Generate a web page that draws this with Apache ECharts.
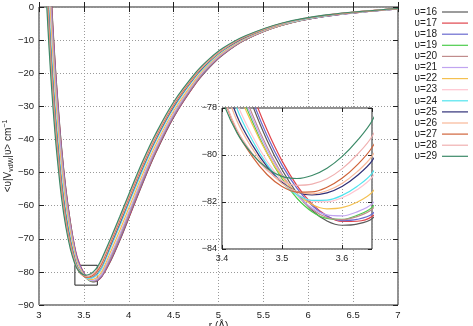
<!DOCTYPE html>
<html>
<head>
<meta charset="utf-8">
<script src="https://cdn.jsdelivr.net/npm/echarts@6/dist/echarts.min.js"></script>
<style>
html, body {margin: 0; padding: 0; background: #fff;}
#chart {width: 473px; height: 326px;}
</style>
</head>
<body>
<div id="chart"></div>
<script>
// r (Å) sampling points shared by every curve
var aR = [3.08, 3.11, 3.14, 3.17, 3.2, 3.25, 3.3, 3.35,
    3.4, 3.425, 3.45, 3.475, 3.5, 3.525, 3.55, 3.575, 3.6, 3.625, 3.65,
    3.7, 3.8, 3.9, 4.0, 4.15, 4.3, 4.5, 4.75, 4.9, 5.05, 5.3, 5.7, 6.2, 7.0];

var aNames = ['υ=16', 'υ=17', 'υ=18', 'υ=19', 'υ=20', 'υ=21', 'υ=22',
    'υ=23', 'υ=24', 'υ=25', 'υ=26', 'υ=27', 'υ=28', 'υ=29'];

var v16 = [36.1, 17.6, 1.5, -12.8, -25.0, -42.0, -55.1, -65.0, -73.2, -76.03, -77.83, -79.37, -80.63, -81.62, -82.35, -82.81, -82.99, -82.94, -82.71, -81.4, -76.65, -70.56, -63.8, -53.58, -44.11, -33.32, -22.96, -18.2, -14.4, -9.9, -5.6, -2.8, -0.6];
var v17 = [35.1, 16.7, 0.7, -13.5, -25.6, -42.5, -55.4, -65.2, -72.7, -75.49, -77.35, -78.93, -80.25, -81.30, -82.08, -82.59, -82.83, -82.82, -82.62, -81.4, -76.4, -70.3, -63.6, -53.4, -43.9, -33.2, -22.9, -18.1, -14.3, -9.9, -5.6, -2.8, -0.6];
var v18 = [33.5, 15.3, -0.6, -14.6, -26.6, -43.2, -56.0, -65.7, -73.0, -75.83, -77.63, -79.17, -80.43, -81.42, -82.15, -82.61, -82.79, -82.74, -82.51, -81.2, -76.1, -70.0, -63.2, -53.1, -43.6, -33.0, -22.7, -18.0, -14.2, -9.8, -5.5, -2.8, -0.6];
var v19 = [30.3, 12.4, -3.1, -16.9, -28.6, -44.8, -57.2, -66.5, -74.3, -76.90, -78.54, -79.91, -81.01, -81.84, -82.41, -82.70, -82.74, -82.57, -82.23, -80.7, -75.4, -69.3, -62.5, -52.4, -43.1, -32.5, -22.4, -17.7, -14.0, -9.7, -5.5, -2.7, -0.6];
var v20 = [31.6, 13.5, -2.1, -16.0, -27.8, -44.2, -56.7, -66.1, -73.9, -76.54, -78.23, -79.65, -80.81, -81.70, -82.31, -82.66, -82.75, -82.62, -82.31, -80.9, -75.7, -69.5, -62.8, -52.6, -43.3, -32.7, -22.5, -17.8, -14.1, -9.7, -5.5, -2.7, -0.6];
var v21 = [28.0, 10.4, -5.0, -18.4, -29.9, -45.9, -58.0, -67.0, -74.2, -76.75, -78.39, -79.76, -80.86, -81.69, -82.26, -82.55, -82.59, -82.42, -82.08, -80.6, -74.9, -68.7, -62.0, -51.9, -42.7, -32.2, -22.1, -17.5, -13.9, -9.6, -5.4, -2.7, -0.6];
var v22 = [22.5, 5.4, -9.3, -22.3, -33.3, -48.5, -59.9, -68.4, -74.7, -77.13, -78.67, -79.93, -80.92, -81.65, -82.11, -82.29, -82.24, -82.01, -81.59, -79.9, -73.8, -67.5, -60.8, -50.8, -41.7, -31.4, -21.6, -17.1, -13.6, -9.4, -5.3, -2.6, -0.5];
var v23 = [17.3, 0.8, -13.5, -25.9, -36.4, -50.9, -61.8, -69.7, -75.6, -77.79, -79.16, -80.26, -81.09, -81.66, -81.95, -81.99, -81.82, -81.48, -80.95, -79.1, -72.7, -66.3, -59.6, -49.7, -40.7, -30.7, -21.0, -16.7, -13.3, -9.2, -5.2, -2.6, -0.5];
var v24 = [16.0, -0.4, -14.5, -26.8, -37.2, -51.6, -62.2, -70.0, -75.9, -78.03, -79.35, -80.40, -81.18, -81.69, -81.93, -81.92, -81.72, -81.34, -80.78, -78.8, -72.4, -66.0, -59.3, -49.5, -40.5, -30.5, -20.9, -16.6, -13.2, -9.2, -5.2, -2.6, -0.5];
var v25 = [12.7, -3.3, -17.1, -29.0, -39.2, -53.1, -63.4, -70.8, -76.4, -78.34, -79.55, -80.49, -81.16, -81.57, -81.70, -81.61, -81.34, -80.88, -80.25, -78.1, -71.7, -65.3, -58.6, -48.8, -39.9, -30.0, -20.6, -16.3, -13.0, -9.1, -5.1, -2.5, -0.5];
var v26 = [10.8, -5.0, -18.6, -30.4, -40.4, -54.0, -64.1, -71.3, -76.7, -78.55, -79.71, -80.60, -81.21, -81.56, -81.65, -81.52, -81.21, -80.72, -80.05, -77.9, -71.3, -64.9, -58.2, -48.4, -39.6, -29.7, -20.4, -16.2, -12.9, -9.0, -5.1, -2.5, -0.5];
var v27 = [8.2, -7.3, -20.7, -32.2, -41.9, -55.2, -65.0, -72.0, -77.3, -79.00, -80.05, -80.83, -81.34, -81.58, -81.57, -81.37, -80.99, -80.43, -79.68, -77.4, -70.8, -64.3, -57.6, -47.9, -39.1, -29.4, -20.1, -15.9, -12.7, -8.9, -5.0, -2.5, -0.5];
var v28 = [6.2, -9.1, -22.2, -33.5, -43.1, -56.2, -65.7, -72.5, -77.3, -78.93, -79.92, -80.65, -81.11, -81.29, -81.24, -81.01, -80.59, -79.99, -79.21, -76.8, -70.4, -63.9, -57.2, -47.5, -38.8, -29.1, -19.9, -15.8, -12.6, -8.8, -5.0, -2.4, -0.5];
var v29 = [3.6, -11.4, -24.3, -35.3, -44.7, -57.4, -66.6, -73.1, -77.6, -79.06, -79.95, -80.56, -80.91, -81.00, -80.87, -80.56, -80.07, -79.40, -78.55, -76.0, -69.8, -63.3, -56.6, -46.9, -38.3, -28.7, -19.7, -15.6, -12.4, -8.7, -4.9, -2.4, -0.45];

var aValues = [v16, v17, v18, v19, v20, v21, v22, v23, v24, v25, v26, v27, v28, v29];

var aColors = ['#5a5a5a', '#e0444c', '#6a6ad0', '#4ccc4c', '#c08c8c', '#c0a4f0', '#f4c050',
    '#ffc4d0', '#50e4ee', '#303078', '#f8b898', '#d0643a', '#f0b0b0', '#3c8a68'];

// zoom window shown in the inset
var aZoomX = [3.4, 3.65];
var aZoomY = [-84, -78];

var sFont = 'Liberation Sans, Arial, sans-serif';

function MinusFmt(v) {
    return String(v).replace('-', '\u2212');
}

function GetAxis(iGrid, sPos, fMin, fMax, fStep, bLabels, bSplit, iZ) {
    return {
        gridIndex: iGrid,
        type: 'value',
        position: sPos,
        min: fMin,
        max: fMax,
        interval: fStep,
        z: iZ,
        axisLine: {show: false},
        axisTick: {show: true, inside: true, length: iGrid == 0 ? 5 : 4, lineStyle: {color: '#222', width: 1}},
        axisLabel: {
            show: bLabels,
            showMaxLabel: iGrid == 0 || sPos == 'left',
            fontSize: iGrid == 0 ? 9.5 : 9,
            fontFamily: sFont,
            color: '#222',
            margin: 5,
            formatter: function (v) {
                return MinusFmt(iGrid == 1 && (sPos == 'bottom') ? v.toFixed(1) : v);
            }
        },
        splitLine: {show: bSplit, lineStyle: {color: '#9a9a9a', width: 1, type: [1, 2]}}
    };
}

var aX = [
    GetAxis(0, 'bottom', 3, 7, 0.5, true, true, 0),
    GetAxis(0, 'top', 3, 7, 0.5, false, false, 0),
    GetAxis(1, 'bottom', aZoomX[0], aZoomX[1], 0.1, true, true, 6),
    GetAxis(1, 'top', aZoomX[0], aZoomX[1], 0.1, false, false, 6)
];
aX[0].name = 'r (Å)';
aX[0].nameLocation = 'middle';
aX[0].nameGap = 16;
aX[0].nameMoveOverlap = false;
aX[0].nameTextStyle = {fontSize: 10, fontFamily: sFont, color: '#222', verticalAlign: 'top'};

var aY = [
    GetAxis(0, 'left', -90, 0, 10, true, true, 0),
    GetAxis(0, 'right', -90, 0, 10, false, false, 0),
    GetAxis(1, 'left', aZoomY[0], aZoomY[1], 2, true, true, 6),
    GetAxis(1, 'right', aZoomY[0], aZoomY[1], 2, false, false, 6)
];
aY[0].name = '<υ|V{sub|vdW}|υ> cm{sup|\u22121}';
aY[0].nameLocation = 'middle';
aY[0].nameGap = 24;
aY[0].nameMoveOverlap = false;
aY[0].nameTextStyle = {
    fontSize: 10, fontFamily: sFont, color: '#222',
    rich: {
        sub: {fontSize: 7, fontFamily: sFont, color: '#222', padding: [5, 0, 0, 0]},
        sup: {fontSize: 7, fontFamily: sFont, color: '#222', padding: [0, 0, 6, 0]}
    }
};

var aSeries = [];
for (var i = 0; i < aNames.length; i++) {
    var aData = [];
    for (var j = 0; j < aR.length; j++) {
        aData.push([aR[j], aValues[i][j]]);
    }
    var jMain = {
        name: aNames[i], type: 'line', xAxisIndex: 0, yAxisIndex: 0,
        data: aData, symbol: 'none', smooth: 0.35, z: 2,
        lineStyle: {width: 1.2, color: aColors[i]},
        itemStyle: {color: aColors[i]}
    };
    if (i == 0) {
        // the box marking the zoomed region
        jMain.markArea = {
            silent: true,
            itemStyle: {color: 'rgba(0,0,0,0)', borderColor: '#222', borderWidth: 1},
            data: [[{coord: [aZoomX[0], aZoomY[0]]}, {coord: [aZoomX[1], aZoomY[1]]}]]
        };
    }
    aSeries.push(jMain);
    aSeries.push({
        name: aNames[i], type: 'line', xAxisIndex: 2, yAxisIndex: 2,
        data: aData, symbol: 'none', smooth: 0.35, z: 7,
        lineStyle: {width: 1.2, color: aColors[i]},
        itemStyle: {color: aColors[i]}
    });
}

var jOption = {
    animation: false,
    backgroundColor: '#fff',
    grid: [
        {left: 39, top: 7, width: 359, height: 298, show: true, backgroundColor: '#fff',
            borderColor: '#222', borderWidth: 1, z: 0, outerBoundsMode: 'none', containLabel: false},
        {left: 222, top: 108, width: 150, height: 141, show: true, backgroundColor: '#fff',
            borderColor: '#222', borderWidth: 1, z: 5, outerBoundsMode: 'none', containLabel: false}
    ],
    legend: {
        data: aNames,
        orient: 'vertical',
        right: 0,
        top: 2,
        align: 'right',
        icon: 'rect',
        itemWidth: 26,
        itemHeight: 1.2,
        itemGap: 1.1,
        textStyle: {fontSize: 10, fontFamily: sFont, color: '#222'}
    },
    xAxis: aX,
    yAxis: aY,
    series: aSeries
};

var myChart = echarts.init(document.getElementById('chart'), null, {renderer: 'canvas'});
myChart.setOption(jOption);
</script>
</body>
</html>
